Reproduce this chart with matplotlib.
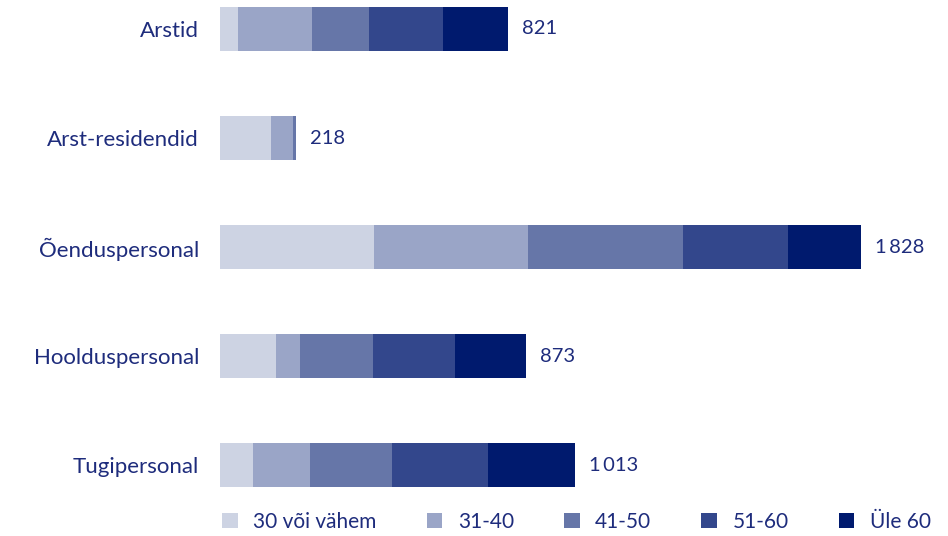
import matplotlib
matplotlib.use("Agg")
import matplotlib.pyplot as plt
import numpy as np

categories = ["Arstid", "Arst-residendid", "Õenduspersonal", "Hoolduspersonal", "Tugipersonal"]
age_groups = ["30 või vähem", "31-40", "41-50", "51-60", "Üle 60"]
s_30 = [50, 144, 439, 160, 95]
s_31_40 = [211, 65, 440, 69, 162]
s_41_50 = [164, 9, 441, 207, 233]
s_51_60 = [212, 0, 301, 234, 273]
s_60 = [184, 0, 207, 203, 250]
totals = [821, 218, 1828, 873, 1013]
total_labels = ["821", "218", "1\u2009828", "873", "1\u2009013"]

colors = ["#CDD3E3", "#9AA5C7", "#6676A8", "#33478C", "#001A6E"]
text_color = "#1E2C7C"

plt.rcParams['font.family'] = ['Lato', 'DejaVu Sans']

W, H = 948, 536
fig = plt.figure(figsize=(W / 100, H / 100), dpi=100)
ax_left, ax_right = 220, 920
ax_top, ax_bot = 0, 495
ax = fig.add_axes([ax_left / W, (H - ax_bot) / H, (ax_right - ax_left) / W, (ax_bot - ax_top) / H])

px_per_unit = 0.3507
ax.set_xlim(0, (ax_right - ax_left) / px_per_unit)
ax.set_ylim(4.275, -0.266)

y = np.arange(len(categories))
series = [s_30, s_31_40, s_41_50, s_51_60, s_60]
left = np.zeros(len(categories))
for vals, col, lab in zip(series, colors, age_groups):
    vals = np.array(vals, dtype=float)
    ax.barh(y, vals, left=left, height=0.40, color=col, label=lab, edgecolor='none')
    left += vals

for yi, tot, lab in zip(y, totals, total_labels):
    ax.annotate(lab, xy=(tot, yi), xytext=(10, 0), textcoords='offset points',
                ha='left', va='center', fontsize=14.5, color=text_color)

ax.set_yticks(y)
ax.set_yticklabels(categories, fontsize=16, color=text_color)
ax.tick_params(axis='y', length=0, pad=15)
ax.set_xticks([])
for s in ax.spines.values():
    s.set_visible(False)

handles, labels = ax.get_legend_handles_labels()
leg = fig.legend(handles, labels, loc='center left', bbox_to_anchor=(222 / W, (H - 522) / H),
                 ncol=5, frameon=False, fontsize=15, handlelength=0.75, handleheight=0.75,
                 handletextpad=0.75, columnspacing=2.4, borderpad=0, borderaxespad=0,
                 labelcolor=text_color)

fig.savefig("out.png", dpi=100)
